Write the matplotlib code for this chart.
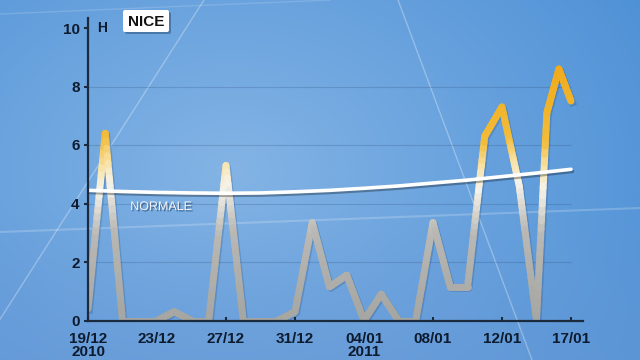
import numpy as np
import matplotlib.pyplot as plt
import matplotlib.patheffects as pe
from matplotlib.collections import LineCollection
from matplotlib.colors import LinearSegmentedColormap
from matplotlib.patches import FancyBboxPatch
from matplotlib.transforms import offset_copy

plt.rcParams['font.family'] = ['Liberation Sans', 'DejaVu Sans']

# Ensoleillement quotidien à Nice (heures), du 19/12/2010 au 17/01/2011
jours = [0, 1, 2, 3, 4, 5, 6, 7, 8, 9, 10, 11, 12, 13, 14, 15, 16, 17, 18, 19,
         20, 21, 22, 23, 24, 25, 26, 26.6, 27.3, 28]
heures = [0.4, 6.4, 0, 0, 0, 0.3, 0, 0, 5.3, 0, 0, 0, 0.3, 3.35, 1.15, 1.55, 0, 0.9, 0, 0,
          3.35, 1.15, 1.15, 6.3, 7.3, 4.6, 0, 7.1, 8.6, 7.5]

# Normale saisonnière
jours_normale = [0, 2, 4, 6, 8, 10, 12, 14, 16, 18, 20, 22, 24, 26, 28]
normale = [4.45, 4.41, 4.38, 4.36, 4.35, 4.36, 4.40, 4.45, 4.52, 4.60, 4.70, 4.80, 4.92, 5.04, 5.17]

pos_ticks = [0, 4, 8, 12, 16, 20, 24, 28]
etiquettes = ['19/12\n2010', '23/12', '27/12', '31/12', '04/01\n2011', '08/01', '12/01', '17/01']

fig = plt.figure(figsize=(6.4, 3.6), dpi=100)

# fond bleu en dégradé
bg = fig.add_axes([0, 0, 1, 1])
bg.set_xlim(0, 640)
bg.set_ylim(360, 0)
bg.axis('off')
yy, xx = np.mgrid[0:360, 0:640]
d = np.clip(np.sqrt(((xx - 230) / 520) ** 2 + ((yy - 170) / 380) ** 2), 0, 1)
centre = np.array([132, 180, 229]) / 255
bord = np.array([74, 142, 213]) / 255
img = centre * (1 - d)[..., None] + bord * d[..., None]
b = (np.clip((yy - 200) / 160, 0, 1) * 0.45)[..., None]
img = img * (1 - b) + np.array([110, 155, 214]) / 255 * b
bg.imshow(img, extent=(0, 640, 360, 0), aspect='auto')

# traits décoratifs
bg.plot([398, 532], [0, 360], color='white', alpha=0.3, lw=1)
bg.plot([204, -26], [0, 360], color='white', alpha=0.3, lw=1)
bg.plot([0, 640], [232, 208], color='white', alpha=0.2, lw=1.5)
bg.plot([0, 330], [14, 0], color='white', alpha=0.15, lw=1)

# cartouche NICE
bg.add_patch(FancyBboxPatch((125, 12), 46, 22, boxstyle='round,pad=0,rounding_size=2',
                            fc='#0b2545', ec='none', alpha=0.35))
bg.add_patch(FancyBboxPatch((123, 10), 46, 22, boxstyle='round,pad=0,rounding_size=2',
                            fc='white', ec='none'))
bg.text(146, 21.5, 'NICE', ha='center', va='center', fontsize=11, weight='bold', color='#111111')

ax = fig.add_axes([88 / 640, 39.5 / 360, 495 / 640, 302.5 / 360])
ax.patch.set_alpha(0)
ax.set_xlim(0, 495 / 17.25)
ax.set_ylim(0, 302.5 / 29.25)

ax.hlines([2, 4, 6, 8], 0, 28, color='#1e3d66', alpha=0.2, lw=0.8, zorder=1)

# courbe d'ensoleillement, couleur selon la hauteur
xs, ys = [], []
for i in range(len(jours) - 1):
    xs.extend(np.linspace(jours[i], jours[i + 1], 25, endpoint=False))
    ys.extend(np.linspace(heures[i], heures[i + 1], 25, endpoint=False))
xs.append(jours[-1])
ys.append(heures[-1])
pts = np.column_stack([xs, ys])
segs = np.stack([pts[:-1], pts[1:]], axis=1)
cmap = LinearSegmentedColormap.from_list('soleil', [
    (0, '#a5a5a2'), (3 / 9, '#b9b8b4'), (4.6 / 9, '#f6f3ea'),
    (5.4 / 9, '#f8e0a0'), (6.2 / 9, '#f2bc3a'), (1, '#f0a818')])
lc = LineCollection(segs, cmap=cmap, norm=plt.Normalize(0, 9), linewidths=5,
                    capstyle='round', joinstyle='round', zorder=4)
lc.set_array((pts[:-1, 1] + pts[1:, 1]) / 2)
ax.plot(jours, heures, color='#0b2a55', alpha=0.18, lw=5, solid_joinstyle='round',
        transform=offset_copy(ax.transData, fig=fig, x=1.5, y=-1.5, units='dots'), zorder=3)
ax.add_collection(lc)

# normale
ax.plot(jours_normale, normale, color='white', lw=2.6, solid_capstyle='round', zorder=5,
        path_effects=[pe.SimpleLineShadow(offset=(1, -1.5), alpha=0.3), pe.Normal()])
ax.text(4.23, 3.88, 'NORMALE', color='#eef2f7', fontsize=9, ha='center', va='center', zorder=5,
        path_effects=[pe.withSimplePatchShadow(offset=(1, -1), shadow_rgbFace='#0b2545', alpha=0.5)])

ax.text(0.5, 10, 'H', fontsize=10, weight='bold', color='#0d1b2e', va='center', ha='left')

for cote in ['top', 'right']:
    ax.spines[cote].set_visible(False)
for cote in ['left', 'bottom']:
    ax.spines[cote].set_color('#1b2a3d')
    ax.spines[cote].set_linewidth(1.6)
    ax.spines[cote].set_zorder(6)

ax.set_yticks([0, 2, 4, 6, 8, 10])
ax.set_xticks(pos_ticks, etiquettes)
ax.tick_params(axis='y', direction='out', length=3, width=1.5, color='#1b2a3d', pad=3,
               labelsize=11, labelcolor='#0d1b2e')
ax.tick_params(axis='x', direction='in', length=3, width=1.5, color='#1b2a3d', pad=8,
               labelsize=11, labelcolor='#0d1b2e')
for lbl in ax.get_xticklabels() + ax.get_yticklabels():
    lbl.set_fontweight('bold')
for lbl in ax.get_xticklabels():
    lbl.set_linespacing(0.95)

fig.savefig('out.png', dpi=100)
